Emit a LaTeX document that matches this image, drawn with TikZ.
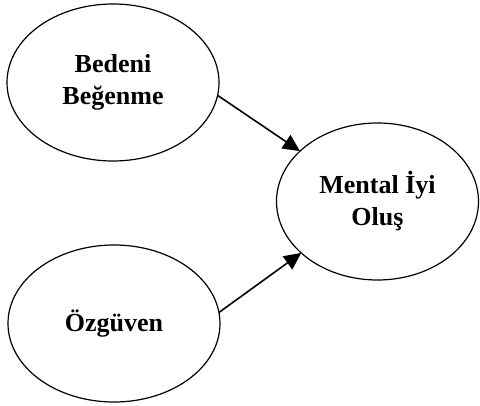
\documentclass[tikz,border=0pt]{standalone}
\usepackage{fontspec}
\setmainfont{Liberation Serif}
\usetikzlibrary{shapes.geometric, arrows.meta}

\begin{document}
\begin{tikzpicture}[x=1pt, y=-1pt,
  oval/.style={draw, ellipse, line width=1.2pt, inner sep=0pt, outer sep=0pt,
    minimum width=212pt, minimum height=157pt, align=center,
    font=\fontsize{26}{32}\selectfont\bfseries},
  ok/.style={-{Triangle[length=17pt,width=16pt]}, line width=1.6pt}]
\useasboundingbox (0,0) rectangle (480,406);
\node [oval] (beden) at (113,82.5) {Bedeni\\Beğenme};
\node [oval, minimum width=202pt] (mental) at (377.5,201.5) {Mental İyi\\Oluş};
\node [oval] (ozguven) at (114,323.5) {Özgüven};
\draw [ok] (beden.-7) -- (mental.147);
\draw [ok] (ozguven.6) -- (mental.214);
\end{tikzpicture}
\end{document}
